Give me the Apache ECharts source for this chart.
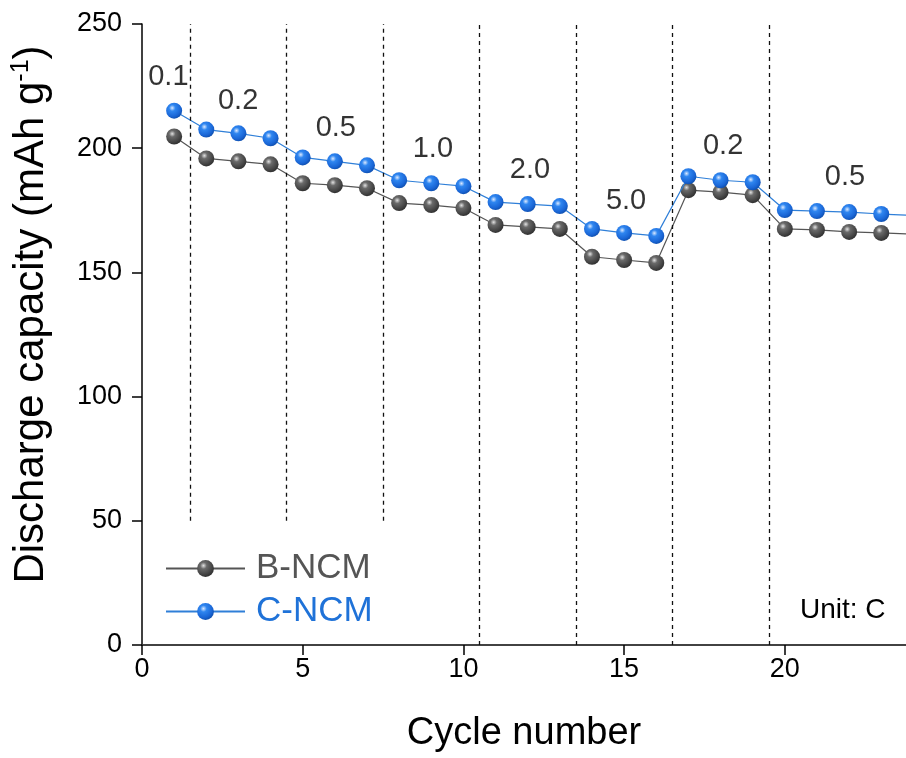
<!DOCTYPE html>
<html>
<head>
<meta charset="utf-8">
<script src="https://cdn.jsdelivr.net/npm/echarts@6/dist/echarts.min.js"></script>
<style>
html,body{margin:0;padding:0;background:#fff;}
#chart{width:906px;height:758px;}
</style>
</head>
<body>
<div id="chart"></div>
<script>
// ---- data ----
const cycles = [1,2,3,4,5,6,7,8,9,10,11,12,13,14,15,16,17,18,19,20,21,22,23,24];
const bNCM = [204.7,195.9,194.7,193.5,185.9,185.1,183.9,177.9,177.1,175.9,169.1,168.3,167.5,156.3,155.0,153.8,183.1,182.3,181.1,167.5,167.1,166.3,165.9,165.4];
const cNCM = [215.1,207.5,206.0,204.0,196.3,194.7,193.1,187.1,185.9,184.7,178.3,177.5,176.7,167.5,165.9,164.7,188.7,187.1,186.3,175.1,174.7,174.3,173.5,172.9];
const rateLabels = ['0.1','0.2','0.5','1.0','2.0','5.0','0.2','0.5'];
const rateLabelX = [0.82,2.99,6.03,9.05,12.07,15.06,18.08,21.87];
const rateLabelY = [228.8,219.0,208.3,199.5,191.3,178.8,200.8,188.5];
const dividerX = [1.5,4.5,7.5,10.5,13.5,16.5,19.5];
const dividerBottom = [50,50,50,0,0,0,0];
const dividerTop = 250;
const xTicks = [0,5,10,15,20];
const yTicks = [0,50,100,150,200,250];

const font = 'Liberation Sans, Arial, Helvetica, sans-serif';

const greyBall = {type:'radial',x:0.38,y:0.33,r:0.7,colorStops:[
  {offset:0,color:'#e2e2e2'},{offset:0.28,color:'#6a6a6a'},{offset:0.75,color:'#444'},{offset:1,color:'#2e2e2e'}]};
const blueBall = {type:'radial',x:0.38,y:0.33,r:0.7,colorStops:[
  {offset:0,color:'#dbe9ff'},{offset:0.28,color:'#2f86f0'},{offset:0.75,color:'#1a66d6'},{offset:1,color:'#0f4fae'}]};

const chart = echarts.init(document.getElementById('chart'), null, {renderer:'canvas'});

const option = {
  backgroundColor:'#fff',
  animation:false,
  grid:{left:142,right:0,top:24,bottom:110,containLabel:false},
  legend:{
    orient:'vertical',
    left:160, top:546,
    itemWidth:79, itemHeight:21, itemGap:8,
    textStyle:{fontFamily:font,fontSize:35,padding:[0,0,0,6]},
    data:[
      {name:'B-NCM',textStyle:{color:'#555555'}},
      {name:'C-NCM',textStyle:{color:'#1f72d8'}}
    ]
  },
  xAxis:[{
    type:'value', min:0, max:23.77, interval:5,
    name:'Cycle number', nameLocation:'middle', nameGap:70,
    nameTextStyle:{fontFamily:font,fontSize:38,color:'#000'},
    axisLine:{show:true,onZero:false,lineStyle:{color:'#000',width:1.5}},
    axisTick:{show:true,inside:false,length:10,lineStyle:{color:'#000',width:1.5}},
    axisLabel:{fontFamily:font,fontSize:27,color:'#000',margin:11,showMaxLabel:false,
      formatter:v=> xTicks.indexOf(v)>=0 ? String(v) : ''},
    splitLine:{show:false}
  },{
    type:'value', min:0, max:23.77, position:'top',
    axisLine:{show:true,lineStyle:{color:'#444',width:1.5}},
    axisTick:{show:false}, axisLabel:{show:false}, splitLine:{show:false}
  }],
  yAxis:{
    type:'value', min:0, max:250, interval:50,
    name:'Discharge capacity (mAh g{sup|-1})', nameLocation:'middle', nameGap:88,
    nameRotate:90,
    nameTextStyle:{fontFamily:font,fontSize:42,color:'#000',padding:[0,0,0,40],
      rich:{sup:{fontFamily:font,fontSize:25,color:'#000',padding:[0,0,20,0]}}},
    axisLine:{show:true,onZero:false,lineStyle:{color:'#000',width:1.5}},
    axisTick:{show:true,inside:false,length:10,lineStyle:{color:'#000',width:1.5}},
    axisLabel:{fontFamily:font,fontSize:27,color:'#000',margin:20},
    splitLine:{show:false}
  },
  graphic:[{
    type:'text', left:800, top:596,
    style:{text:'Unit: C',fontFamily:font,fontSize:28,fill:'#000'}
  }],
  series:[
    {
      name:'B-NCM', type:'line', clip:true,
      data:cycles.map((c,i)=>[c,bNCM[i]]),
      symbol:'circle', symbolSize:16,
      lineStyle:{color:'#555555',width:1.2},
      itemStyle:{color:greyBall,borderWidth:0},
      z:2,
      markLine:{
        silent:true, symbol:'none', animation:false,
        label:{show:false},
        lineStyle:{color:'#111',width:1.3,type:[4,4]},
        data:dividerX.map((x,i)=>[{coord:[x,dividerBottom[i]]},{coord:[x,dividerTop]}])
      }
    },
    {
      name:'C-NCM', type:'line', clip:true,
      data:cycles.map((c,i)=>[c,cNCM[i]]),
      symbol:'circle', symbolSize:16,
      lineStyle:{color:'#2f7fd8',width:1.2},
      itemStyle:{color:blueBall,borderWidth:0},
      z:3
    },
    {
      name:'rates', type:'scatter', symbolSize:0, silent:true,
      data:rateLabels.map((t,i)=>[rateLabelX[i],rateLabelY[i],t]),
      label:{show:true,position:'inside',formatter:p=>p.value[2],
        fontFamily:font,fontSize:29,color:'#000'},
      z:4
    }
  ]
};
chart.setOption(option);
</script>
</body>
</html>
